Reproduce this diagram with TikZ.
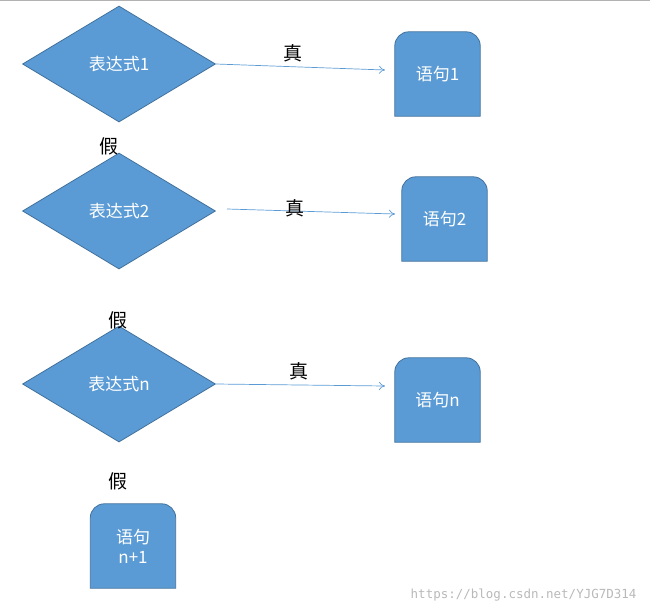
\documentclass[tikz,border=0pt]{standalone}
\usepackage{fontspec}
\setmainfont{Noto Sans CJK SC}
\newfontfamily\monof{DejaVu Sans Mono}
\usetikzlibrary{shapes.geometric,arrows.meta}
\definecolor{fillb}{HTML}{5B9BD5}
\definecolor{edgeb}{HTML}{41719C}
\tikzset{
 dia/.style={diamond,fill=fillb,draw=edgeb,line width=0.8pt,minimum width=193pt,minimum height=116pt,inner sep=0pt,text=white,font=\fontsize{17}{17}\selectfont},
 boxt/.style={minimum width=85pt,minimum height=84pt,inner sep=0pt,text=white,align=center,font=\fontsize{17}{20}\selectfont},
 lab/.style={font=\fontsize{19}{19}\selectfont,text=black},
 arr/.style={draw=fillb,line width=0.7pt,-{To[length=6pt,width=8pt]}},
}
\newcommand{\tbox}[1]{\draw[fill=fillb,draw=edgeb,line width=0.8pt] (#1.south west) [rounded corners=14pt] -- (#1.north west) -- (#1.north east) [sharp corners] -- (#1.south east) -- cycle;}
\begin{document}
\begin{tikzpicture}[x=1pt,y=-1pt]
\useasboundingbox (0,0) rectangle (650,613);
\draw[gray!60] (0,0.5) -- (650,0.5);
\node[dia] (d1) at (119,64) {};
\node[dia] (d2) at (119,211) {};
\node[dia] (d3) at (119,384) {};
\node[text=white,font=\fontsize{17}{17}\selectfont] (t1) at (119,64) {表达式1};
\node[text=white,font=\fontsize{17}{17}\selectfont] (t2) at (119,211) {表达式2};
\node[text=white,font=\fontsize{17}{17}\selectfont] (t3) at (119,384) {表达式n};
\node[boxt] (b1) at (437.5,74) {};
\node[boxt] (b2) at (444.5,219) {};
\node[boxt] (b3) at (437.5,400) {};
\node[boxt] (b4) at (133,546) {};
\tbox{b1}\tbox{b2}\tbox{b3}\tbox{b4}
\node[boxt] (c1) at (b1) {语句1};
\node[boxt] (c2) at (b2) {语句2};
\node[boxt] (c3) at (b3) {语句n};
\node[boxt] (c4) at (b4) {语句\\n+1};
\coordinate (e1) at (385,70);
\coordinate (e2) at (395,214);
\coordinate (e3) at (385,386);
\coordinate (s2) at (227,209);
\draw[arr] (d1.east) -- (e1);
\draw[arr] (s2) -- (e2);
\draw[arr] (d3.east) -- (e3);
\node[lab] (l1) at (293,53) {真};
\node[lab] (l2) at (295,208) {真};
\node[lab] (l3) at (299,371) {真};
\node[lab] (f1) at (109,146) {假};
\node[lab] (f2) at (118,320) {假};
\node[lab] (f3) at (118,481) {假};
\node[text=gray!55,font=\monof\fontsize{12.5}{13}\selectfont,anchor=east] (wm) at (640,595) {https://blog.csdn.net/YJG7D314};
\end{tikzpicture}
\end{document}
